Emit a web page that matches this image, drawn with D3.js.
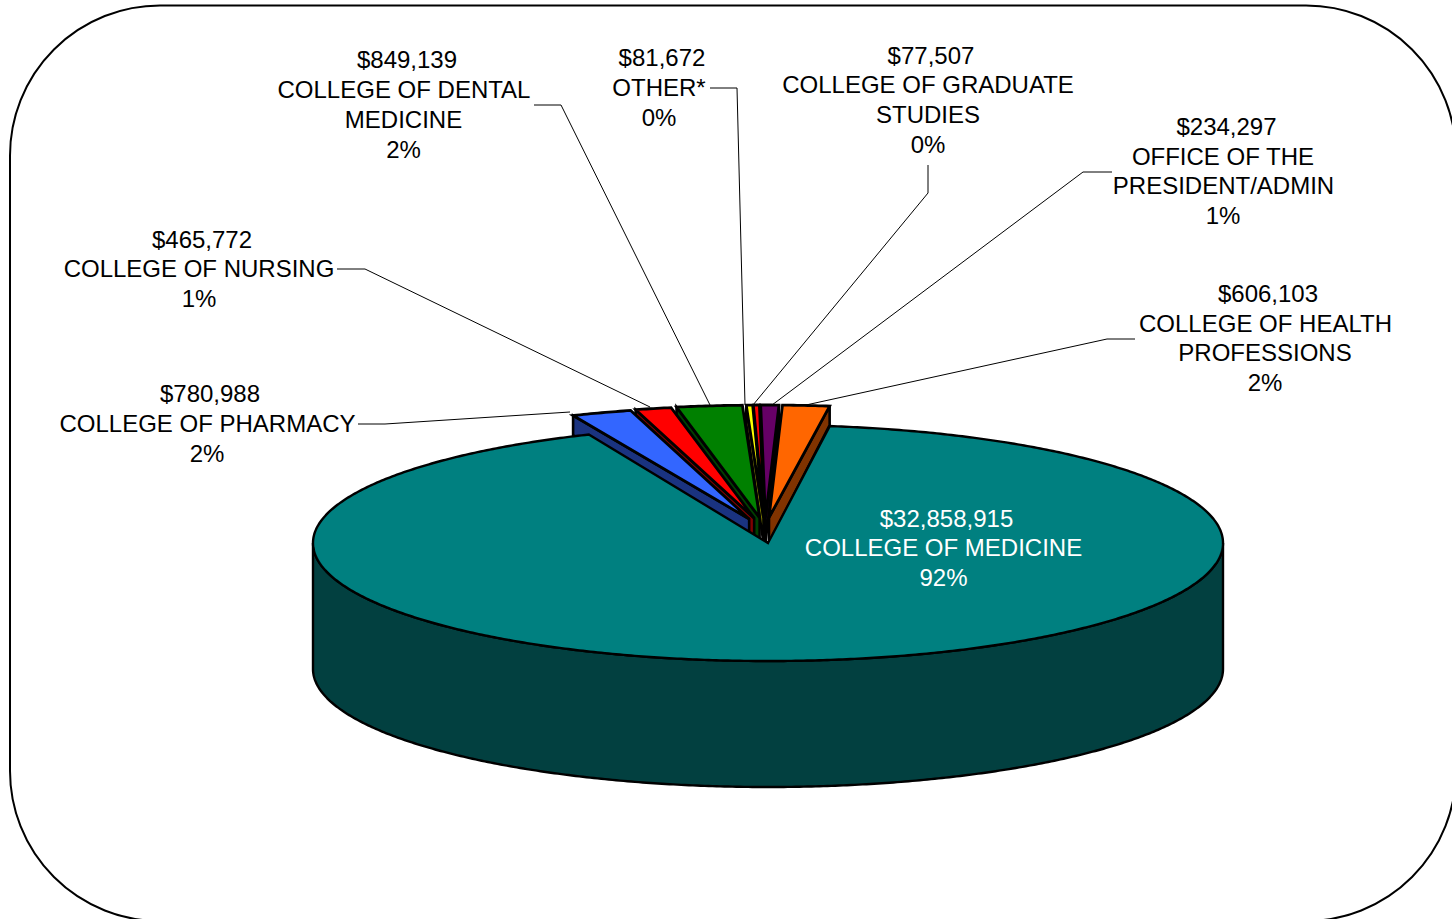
<!DOCTYPE html>
<html><head><meta charset="utf-8">
<script src="https://cdnjs.cloudflare.com/ajax/libs/d3/7.8.5/d3.min.js"></script>
<style>html,body{margin:0;padding:0;background:#fff;overflow:hidden}svg{display:block}text{font-family:"Liberation Sans",Arial,sans-serif}</style>
</head><body><svg id="c" width="1452" height="919"></svg>
<script>
// Data
const categories = ["COLLEGE OF MEDICINE","COLLEGE OF PHARMACY","COLLEGE OF NURSING","COLLEGE OF DENTAL MEDICINE","OTHER*","COLLEGE OF GRADUATE STUDIES","OFFICE OF THE PRESIDENT/ADMIN","COLLEGE OF HEALTH PROFESSIONS"];
const values = [32858915,780988,465772,849139,81672,77507,234297,606103];
const percentLabels = ["92%","2%","1%","2%","0%","0%","1%","2%"];

// Styling and layout, separate from the data
const topColors = ["#008080","#3366FF","#FF0000","#008000","#FFFF00","#FF0000","#660066","#FF6600"];
const wallColors = ["#024040","#1A3380","#800000","#004000","#808000","#800000","#330033","#803300"];
const labelLines = [
  ["COLLEGE OF MEDICINE"],["COLLEGE OF PHARMACY"],["COLLEGE OF NURSING"],["COLLEGE OF DENTAL","MEDICINE"],
  ["OTHER*"],["COLLEGE OF GRADUATE","STUDIES"],["OFFICE OF THE","PRESIDENT/ADMIN"],["COLLEGE OF HEALTH","PROFESSIONS"]];
const labelX = [[946.5,943.5,943.5],[210,207.5,207],[202,199,199],[407,404,403.5,403.5],[662,659,659],[931,928,928,928],[1226.5,1223,1223.5,1223],[1268,1265.5,1265,1265]];
const labelRows = [[518,547,577],[393,423,453],[239,268,298],[59,89,119,149.5],[57,87,117],[55,84,114,144],[126,156,185,215],[293,323,352,382]];
const leaders = [null,
  [[358,424],[385,424],[570,412]],
  [[337,269],[365,269],[650,407]],
  [[534,105],[561,105],[710,405]],
  [[710,88],[737,88],[745,405]],
  [[928,165],[928,193],[753,405]],
  [[1112,172],[1083,172],[772,405]],
  [[1135,339],[1107,339],[806,405]]];

const deg = Math.PI/180;
const cx=768, cy=543, rx=455, ry=118, depth=126;      // main disc
const rxE=447, ryE=112.5, lowRy=119, exX=48, exY=25.5, lowDrop=25.5, shiftX=-3; // exploded slices

const svg = d3.select("#c");
const fmt = d3.format("$,");
const pie = d3.pie().sort(null).startAngle(7.8*deg).endAngle(367.8*deg);
const arcs = pie(values);

const line = d3.line();
const pt = (c,a)=>[c.x+c.rx*Math.sin(a), c.y-c.ry*Math.cos(a)];
const arcPts = (c,a0,a1)=>{
  const n=Math.max(2,Math.ceil(Math.abs(a1-a0)/(0.5*deg)));
  return d3.range(n+1).map(i=>pt(c,a0+(a1-a0)*i/n));
};
const sector = (c,a0,a1)=>line([[c.x,c.y],...arcPts(c,a0,a1)])+"Z";

// frame
svg.append("rect").attr("x",10).attr("y",5.5).attr("width",1446).attr("height",915.5)
  .attr("rx",150).attr("ry",150).attr("fill","#fff").attr("stroke","#000").attr("stroke-width",2);

const draw = (d,fill,sw)=>svg.append("path").attr("d",d).attr("fill",fill)
  .attr("stroke","#000").attr("stroke-width",sw).attr("stroke-linejoin","miter").attr("stroke-miterlimit",4);

const main={x:cx,y:cy,rx,ry};
const mainLow={x:cx,y:cy+depth,rx,ry};
const order=[5,4,3,2,1,6,7];   // from the middle outwards
const sliceGeom = i=>{
  const a=arcs[i], m=(a.startAngle+a.endAngle)/2;
  return {a, c:{x:cx+shiftX+exX*Math.sin(m), y:cy-exY*Math.cos(m), rx:rxE, ry:ryE}};
};

// main disc front wall
draw(line([...arcPts(main,90*deg,270*deg),...arcPts(mainLow,270*deg,90*deg)])+"Z",wallColors[0],2.4);

// walls of the exploded slices lie behind the main top face
order.forEach(i=>{
  const {a,c}=sliceGeom(i);
  const low={...c,y:c.y+lowDrop,ry:lowRy};
  const edge = i<=5 ? a.startAngle : a.endAngle;
  draw(line([[c.x,c.y],pt(c,edge),pt(low,edge),[low.x,low.y]])+"Z",wallColors[i],2.6);
});

// main top face
draw(sector(main,arcs[0].startAngle,arcs[0].endAngle),topColors[0],2.4);

// top faces of the exploded slices
order.forEach(i=>{
  const {a,c}=sliceGeom(i);
  draw(sector(c,a.startAngle,a.endAngle),topColors[i],2.8);
});

// leader lines
leaders.forEach(l=>{ if(l) svg.append("path").attr("d",line(l)).attr("fill","none").attr("stroke","#000").attr("stroke-width",1); });

// labels
categories.forEach((n,i)=>{
  const rows=[fmt(values[i]),...labelLines[i],percentLabels[i]];
  rows.forEach((t,j)=>svg.append("text").attr("x",labelX[i][j]).attr("y",labelRows[i][j])
    .attr("text-anchor","middle").attr("dominant-baseline","central")
    .attr("font-size",24).attr("fill",i===0?"#fff":"#000").text(t));
});
</script></body></html>
